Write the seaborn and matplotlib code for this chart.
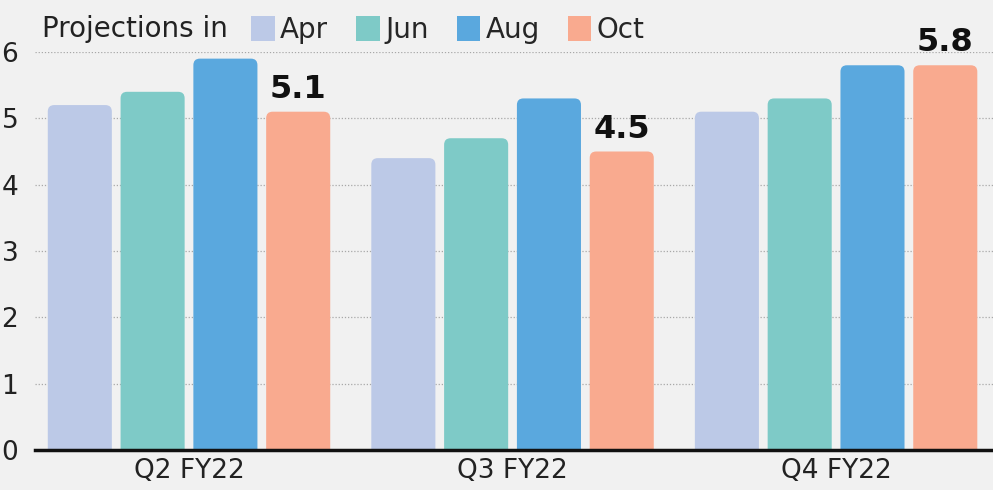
import pandas as pd
import seaborn as sns
import matplotlib.pyplot as plt
from matplotlib.patches import FancyBboxPatch

# values
quarters = ['Q2 FY22', 'Q3 FY22', 'Q4 FY22']
months = ['Apr', 'Jun', 'Aug', 'Oct']
apr = [5.2, 4.4, 5.1]
jun = [5.4, 4.7, 5.3]
aug = [5.9, 5.3, 5.8]
octo = [5.1, 4.5, 5.8]
colors = ['#bcc9e7', '#7ecac7', '#5aa8de', '#f9aa8f']

rows = []
for m, vals in zip(months, [apr, jun, aug, octo]):
    for q, v in zip(quarters, vals):
        rows.append({'quarter': q, 'month': m, 'value': v})
df = pd.DataFrame(rows)

sns.set_style('white')
plt.rcParams['font.family'] = ['DejaVu Sans']
bg = '#f1f1f1'

fig = plt.figure(figsize=(9.93, 4.9), dpi=100, facecolor=bg)
ax = fig.add_axes([35 / 993, 40 / 490, 1 - 35 / 993, 398 / 490])
ax.set_facecolor(bg)

sns.barplot(data=df, x='quarter', y='value', hue='month', order=quarters,
            hue_order=months, palette=colors, width=0.9, gap=0.12,
            saturation=1, linewidth=0, ax=ax, zorder=2)

ax.set_ylim(0, 6)
ax.set_xlim(-0.476, 2.485)

# rounded tops: swap each bar for a rounded box (bottom hidden under the axis)
aspect = (6 / 398) / (2.961 / 958)
r = 0.02
for cont in ax.containers:
    for p in cont.patches:
        x, w, h = p.get_x(), p.get_width(), p.get_height()
        rb = FancyBboxPatch((x, -r * aspect), w, h + r * aspect,
                            boxstyle=f'round,pad=0,rounding_size={r}',
                            mutation_aspect=aspect, fc=p.get_facecolor(),
                            lw=0, zorder=2)
        ax.add_patch(rb)
        p.set_visible(False)

# label only the latest projection
ax.bar_label(ax.containers[3], fmt='%.1f', padding=5, fontsize=23,
             fontweight='bold', color='#111111', clip_on=False)

ax.set_yticks(range(0, 7))
ax.yaxis.grid(True, linestyle=(0, (1, 1.5)), color='#a8a8a8', lw=0.9, zorder=0)
ax.set_axisbelow(True)
for s in ['left', 'right', 'top']:
    ax.spines[s].set_visible(False)
ax.spines['bottom'].set_color('#111111')
ax.spines['bottom'].set_linewidth(2.5)
ax.spines['bottom'].set_zorder(3)
ax.tick_params(axis='both', length=0, labelsize=19, colors='#222222')
ax.tick_params(axis='y', pad=12)
ax.tick_params(axis='x', pad=6)
ax.set_xlabel('')
ax.set_ylabel('')

handles, labels = ax.get_legend_handles_labels()
ax.legend(handles, labels, ncol=4, loc='center left',
          bbox_to_anchor=(216 / 958, 1 + 22 / 398), bbox_transform=ax.transAxes,
          frameon=False, fontsize=20, handlelength=0.85, handleheight=1.0,
          handletextpad=0.2, columnspacing=1.0, borderaxespad=0, borderpad=0)
fig.text(42 / 993, 1 - 29 / 490, 'Projections in', fontsize=20, color='#222222',
         va='center', ha='left')

fig.savefig('out.png', dpi=100, facecolor=bg)
